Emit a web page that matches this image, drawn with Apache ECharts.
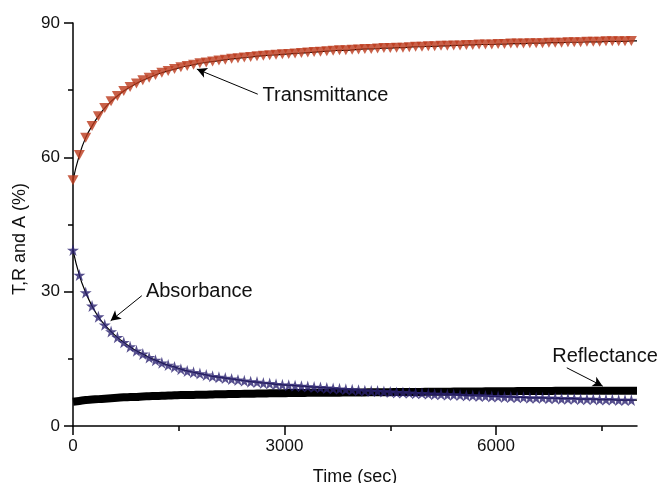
<!DOCTYPE html>
<html>
<head>
<meta charset="utf-8">
<script src="https://cdn.jsdelivr.net/npm/echarts@6/dist/echarts.min.js"></script>
<style>
html,body{margin:0;padding:0;background:#fff;}
#c{width:665px;height:483px;}
</style>
</head>
<body>
<div id="c"></div>
<script>
var times = [0,90,180,270,360,450,540,630,720,810,900,990,1080,1170,1260,1350,1440,1530,1620,1710,1800,1890,1980,2070,2160,2250,2340,2430,2520,2610,2700,2790,2880,2970,3060,3150,3240,3330,3420,3510,3600,3690,3780,3870,3960,4050,4140,4230,4320,4410,4500,4590,4680,4770,4860,4950,5040,5130,5220,5310,5400,5490,5580,5670,5760,5850,5940,6030,6120,6210,6300,6390,6480,6570,6660,6750,6840,6930,7020,7110,7200,7290,7380,7470,7560,7650,7740,7830,7920];
var transmittance = [54.9,60.5,64.4,67.0,69.2,71.0,72.5,73.7,74.8,75.7,76.5,77.2,77.8,78.4,78.9,79.3,79.7,80.1,80.4,80.7,81.0,81.2,81.4,81.6,81.8,82.0,82.1,82.3,82.4,82.6,82.7,82.8,82.9,83.0,83.1,83.2,83.3,83.4,83.5,83.6,83.7,83.8,83.9,83.9,84.0,84.1,84.2,84.2,84.3,84.4,84.4,84.5,84.5,84.6,84.7,84.7,84.8,84.8,84.9,84.9,85.0,85.0,85.1,85.1,85.2,85.2,85.2,85.3,85.3,85.4,85.4,85.4,85.5,85.5,85.5,85.6,85.6,85.6,85.7,85.7,85.7,85.8,85.8,85.8,85.9,85.9,85.9,85.9,86.0];
var absorbance = [39.3,33.7,29.8,26.8,24.4,22.6,21.1,19.8,18.7,17.7,16.8,16.1,15.3,14.7,14.1,13.6,13.2,12.7,12.3,12.0,11.7,11.4,11.1,10.9,10.7,10.5,10.3,10.1,9.9,9.8,9.6,9.5,9.3,9.2,9.1,9.0,8.9,8.8,8.7,8.6,8.5,8.4,8.3,8.2,8.1,8.0,7.9,7.8,7.8,7.7,7.6,7.5,7.5,7.4,7.3,7.3,7.2,7.1,7.1,7.0,7.0,6.9,6.8,6.8,6.7,6.7,6.6,6.6,6.5,6.5,6.4,6.4,6.3,6.3,6.3,6.2,6.2,6.1,6.1,6.1,6.0,6.0,6.0,5.9,5.9,5.9,5.8,5.8,5.8];
var reflectance = [5.4,5.6,5.8,5.9,6.0,6.1,6.2,6.3,6.4,6.45,6.5,6.6,6.65,6.7,6.75,6.8,6.85,6.9,6.9,6.95,7.0,7.0,7.05,7.1,7.1,7.15,7.15,7.2,7.2,7.25,7.25,7.3,7.3,7.3,7.35,7.35,7.35,7.4,7.4,7.4,7.45,7.45,7.45,7.5,7.5,7.5,7.5,7.55,7.55,7.55,7.55,7.6,7.6,7.6,7.6,7.6,7.65,7.65,7.65,7.65,7.7,7.7,7.7,7.7,7.7,7.75,7.75,7.75,7.75,7.75,7.8,7.8,7.8,7.8,7.8,7.8,7.85,7.85,7.85,7.85,7.85,7.85,7.9,7.9,7.9,7.9,7.9,7.9,7.9];
// fitted curves end values at the axis end
var endTime = 8000;
var endValues = {T: 86.0, A: 5.8, R: 7.9};
var xMajorTicks = [0, 3000, 6000];
var xMinorTicks = [1500, 4500, 7500];

function pairs(xs, ys, endY) {
  var out = xs.map(function (x, i) { return [x, ys[i]]; });
  if (endY !== undefined) out.push([endTime, endY]);
  return out;
}

var FONT = 'Liberation Sans, Arial, sans-serif';
var starPath = 'path://M50,0 L61,35 L98,35 L68,57 L79,91 L50,70 L21,91 L32,57 L2,35 L39,35 Z';

var chart = echarts.init(document.getElementById('c'), null, {renderer: 'canvas'});
var option = {
  animation: false,
  backgroundColor: '#ffffff',
  grid: {left: 73, right: 28, top: 23, bottom: 57, outerBoundsMode: 'none', containLabel: false},
  xAxis: [{
    type: 'value', min: 0, max: 8000,
    position: 'bottom',
    name: 'Time (sec)', nameLocation: 'middle', nameGap: 42,
    nameTextStyle: {fontFamily: FONT, fontSize: 18, color: '#111'},
    axisLine: {show: true, lineStyle: {color: '#000', width: 1.5}},
    axisTick: {show: true, length: 9, inside: false, customValues: xMajorTicks, lineStyle: {color: '#000', width: 1.5}},
    axisLabel: {show: true, customValues: xMajorTicks, margin: 12, fontFamily: FONT, fontSize: 17, color: '#111',
      formatter: function (v) { return String(v); }},
    splitLine: {show: false}
  }, {
    type: 'value', min: 0, max: 8000,
    position: 'bottom',
    axisLine: {show: false},
    axisTick: {show: true, length: 5, customValues: xMinorTicks, lineStyle: {color: '#000', width: 1.5}},
    axisLabel: {show: false},
    splitLine: {show: false}
  }],
  yAxis: {
    type: 'value', min: 0, max: 90, interval: 30,
    axisLine: {show: true, lineStyle: {color: '#000', width: 1.5}},
    axisTick: {show: true, length: 9, lineStyle: {color: '#000', width: 1.5}},
    minorTick: {show: true, splitNumber: 2, length: 5, lineStyle: {color: '#000', width: 1.5}},
    axisLabel: {margin: 13, fontFamily: FONT, fontSize: 17, color: '#111'},
    splitLine: {show: false}
  },
  graphic: [{
    type: 'text', x: 20, y: 239,
    rotation: Math.PI / 2,
    style: {text: 'T,R and A (%)', font: '18px ' + FONT, fill: '#111', align: 'center', verticalAlign: 'middle'}
  }],
  series: [
    {
      name: 'T fit', type: 'line', data: pairs(times, transmittance, endValues.T), smooth: true,
      showSymbol: false, lineStyle: {color: '#000', width: 1.2}, z: 2, silent: true,
      markLine: {
        silent: true, symbol: ['none', 'arrow'], symbolSize: [8, 10],
        lineStyle: {color: '#000', width: 1, type: 'solid'}, label: {show: false},
        data: [[{coord: [2621, 74.1]}, {coord: [1757, 79.7]}]]
      },
      markPoint: {
        silent: true, symbol: 'circle', symbolSize: 0,
        data: [{coord: [2688, 73.9], label: {show: true, formatter: 'Transmittance', position: [0, 0], align: 'left', verticalAlign: 'middle', fontFamily: FONT, fontSize: 20, color: '#111'}}]
      }
    },
    {
      name: 'Transmittance', type: 'scatter', data: pairs(times, transmittance),
      symbol: 'triangle', symbolRotate: 180, symbolSize: [11, 10],
      itemStyle: {color: '#bb391c'}, z: 3
    },
    {
      name: 'A fit', type: 'line', data: pairs(times, absorbance, endValues.A), smooth: true,
      showSymbol: false, lineStyle: {color: '#000', width: 1.2}, z: 2, silent: true,
      markLine: {
        silent: true, symbol: ['none', 'arrow'], symbolSize: [8, 10],
        lineStyle: {color: '#000', width: 1, type: 'solid'}, label: {show: false},
        data: [[{coord: [976, 29.1]}, {coord: [534, 23.5]}]]
      },
      markPoint: {
        silent: true, symbol: 'circle', symbolSize: 0,
        data: [{coord: [1034, 30.0], label: {show: true, formatter: 'Absorbance', position: [0, 0], align: 'left', verticalAlign: 'middle', fontFamily: FONT, fontSize: 20, color: '#111'}}]
      }
    },
    {
      name: 'Reflectance', type: 'line', data: pairs(times, reflectance, endValues.R), smooth: true,
      showSymbol: false, lineStyle: {color: '#000', width: 8, cap: 'butt'}, z: 3, silent: true,
      markLine: {
        silent: true, symbol: ['none', 'arrow'], symbolSize: [8, 10],
        lineStyle: {color: '#000', width: 1, type: 'solid'}, label: {show: false},
        data: [[{coord: [7004, 13.0]}, {coord: [7514, 8.9]}]]
      },
      markPoint: {
        silent: true, symbol: 'circle', symbolSize: 0,
        data: [{coord: [6797, 15.6], label: {show: true, formatter: 'Reflectance', position: [0, 0], align: 'left', verticalAlign: 'middle', fontFamily: FONT, fontSize: 20, color: '#111'}}]
      }
    },
    {
      name: 'Absorbance', type: 'scatter', data: pairs(times, absorbance),
      symbol: starPath, symbolSize: 12,
      itemStyle: {color: '#2b2270'}, z: 4
    }
  ]
};
chart.setOption(option);
</script>
</body>
</html>
